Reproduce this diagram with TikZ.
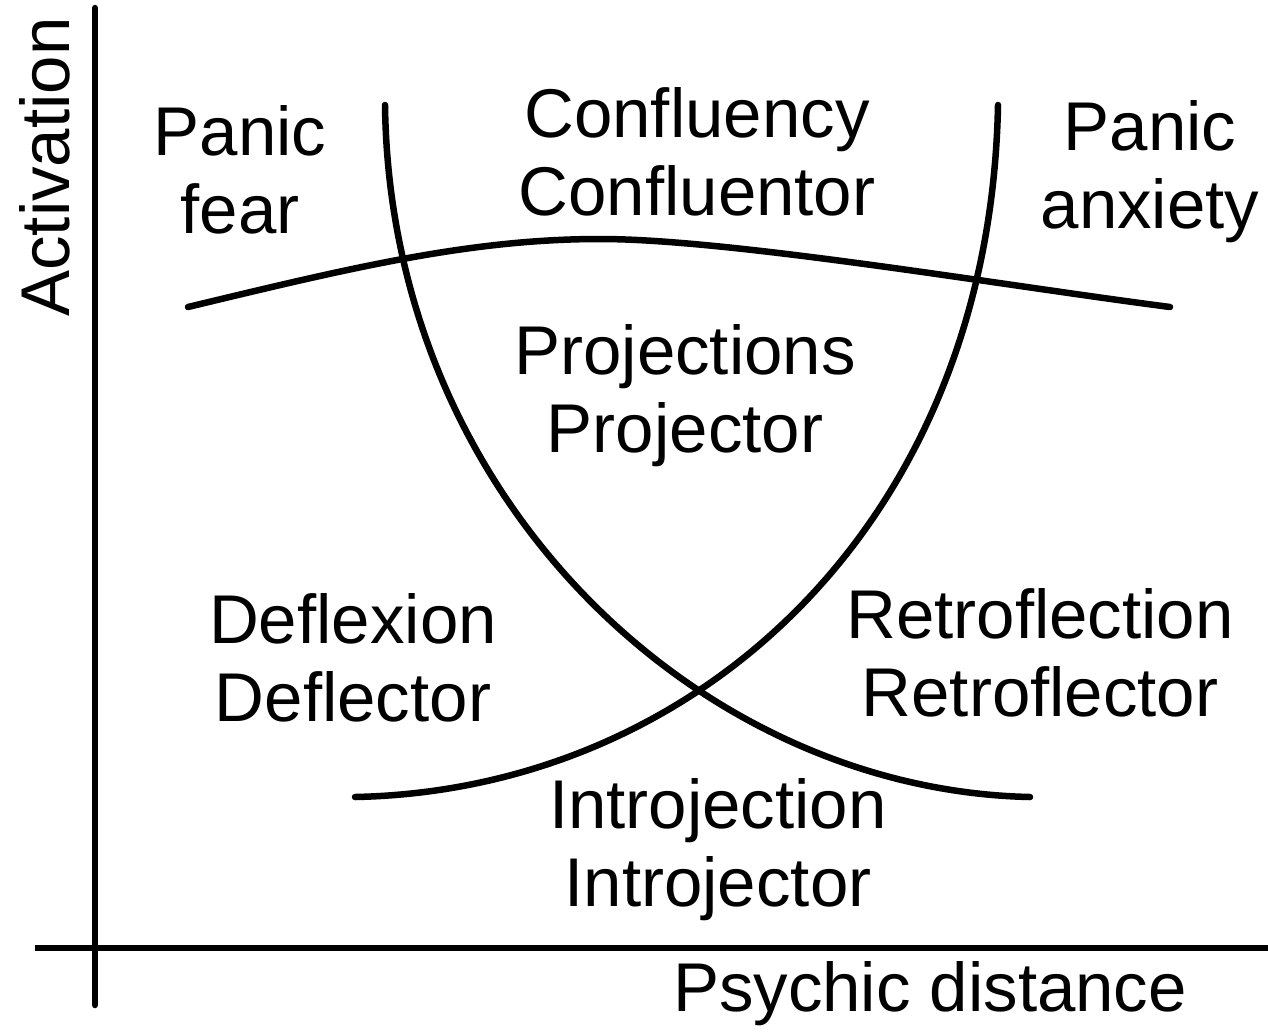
\documentclass[tikz,border=0pt]{standalone}
\usepackage{fontspec}
\setmainfont{Liberation Sans}
\begin{document}
\begin{tikzpicture}[x=1pt,y=-1pt,
  curve/.style={line width=6.5pt,line cap=round},
  lbl/.style={align=center,inner sep=0pt,font=\fontsize{69}{78}\selectfont}]
\useasboundingbox (0,0) rectangle (1268,1031);
% axes
\coordinate (ytop) at (95,8);
\coordinate (ybot) at (95,1005);
\coordinate (xl) at (35,948);
\coordinate (xr) at (1268,948);
\draw[curve] (ytop) -- (ybot);
\draw[curve,line cap=butt] (xl) -- (xr);
% curves
\coordinate (a1) at (385,105); \coordinate (a2) at (1030,797);
\coordinate (b1) at (998,105); \coordinate (b2) at (355,797);
\coordinate (c1) at (188,307); \coordinate (c2) at (600,239); \coordinate (c3) at (1170,307);
\draw[curve] (a1) .. controls (390,500) and (700,790) .. (a2);
\draw[curve] (b1) .. controls (990,520) and (700,790) .. (b2);
\draw[curve] (c1) .. controls (350,268) and (470,239) .. (c2) .. controls (730,239) and (1000,285) .. (c3);
% labels
\node[lbl] (pf) at (240,170) {Panic\\fear};
\node[lbl] (cf) at (697,152) {Confluency\\Confluentor};
\node[lbl] (pa) at (1150,172) {Panic\\anxiety};
\node[lbl] (pj) at (685,396) {Projections\\Projector};
\node[lbl] (df) at (353,658) {Deflexion\\Deflector};
\node[lbl] (rf) at (1040,653) {Retroflection\\Retroflector};
\node[lbl] (ij) at (718,850) {Introjection\\Introjector};
\node[lbl] (pd) at (930,994) {Psychic distance};
\node[lbl,rotate=90] (ac) at (45,167) {Activation};
\end{tikzpicture}
\end{document}
